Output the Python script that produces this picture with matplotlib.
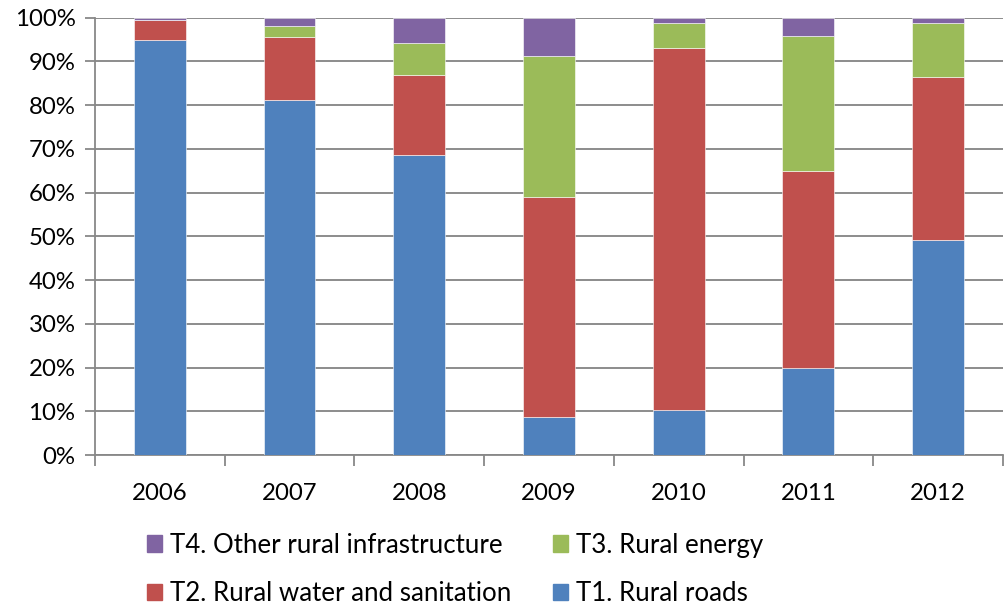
import matplotlib.pyplot as plt
import numpy as np
from matplotlib.patches import Patch

years = ["2006", "2007", "2008", "2009", "2010", "2011", "2012"]
t1_roads = [94.9, 81.1, 68.5, 8.8, 10.2, 20.0, 49.2]
t2_water = [4.6, 14.5, 18.3, 50.2, 82.9, 44.9, 37.2]
t3_energy = [0.0, 2.4, 7.3, 32.2, 5.7, 30.8, 12.3]
t4_other = [0.5, 2.0, 5.9, 8.8, 1.2, 4.3, 1.3]

names = ["T1. Rural roads", "T2. Rural water and sanitation",
         "T3. Rural energy", "T4. Other rural infrastructure"]
colors = ["#4F81BD", "#C0504D", "#9BBB59", "#8064A2"]

plt.rcParams['font.family'] = ['Lato', 'DejaVu Sans']

fig = plt.figure(figsize=(10.06, 6.08), dpi=100)
ax = fig.add_axes([0.0944, 0.2516, 0.9026, 0.7196])

x = np.arange(len(years))
series = [t1_roads, t2_water, t3_energy, t4_other]
bottom = np.zeros(len(years))
for vals, c in zip(series, colors):
    ax.bar(x, vals, width=0.4, bottom=bottom, color=c, edgecolor="white",
           linewidth=0.4, zorder=3)
    bottom += np.array(vals)

ax.set_xlim(-0.5, len(years) - 0.5)
ax.set_ylim(0, 100)
ax.set_yticks(range(0, 101, 10))
ax.set_yticklabels([f"{v}%" for v in range(0, 101, 10)])
ax.set_xticks(x)
ax.set_xticklabels(years)
ax.set_xticks(np.arange(-0.5, len(years)), minor=True)
ax.tick_params(axis="x", which="major", length=0, pad=20, labelsize=17.3)
ax.tick_params(axis="x", which="minor", length=8, width=1.3, color="#888888")
ax.tick_params(axis="y", length=7, width=1.3, color="#888888", pad=7, labelsize=17.3)

ax.grid(axis="y", color="#8c8c8c", linewidth=1.4, zorder=0)
for s in ["top", "right"]:
    ax.spines[s].set_visible(False)
for s in ["left", "bottom"]:
    ax.spines[s].set_color("#888888")
    ax.spines[s].set_linewidth(1.3)

handles = [Patch(color=colors[3]), Patch(color=colors[1]),
           Patch(color=colors[2]), Patch(color=colors[0])]
labels = [names[3], names[1], names[2], names[0]]
fig.legend(handles, labels, ncol=2, loc="upper left",
           bbox_to_anchor=(0.133, 0.145), frameon=False, fontsize=18.6,
           handlelength=0.6, handleheight=0.6, handletextpad=0.3,
           columnspacing=1.6, labelspacing=0.9, borderpad=0)

fig.savefig("out.png", dpi=100)
